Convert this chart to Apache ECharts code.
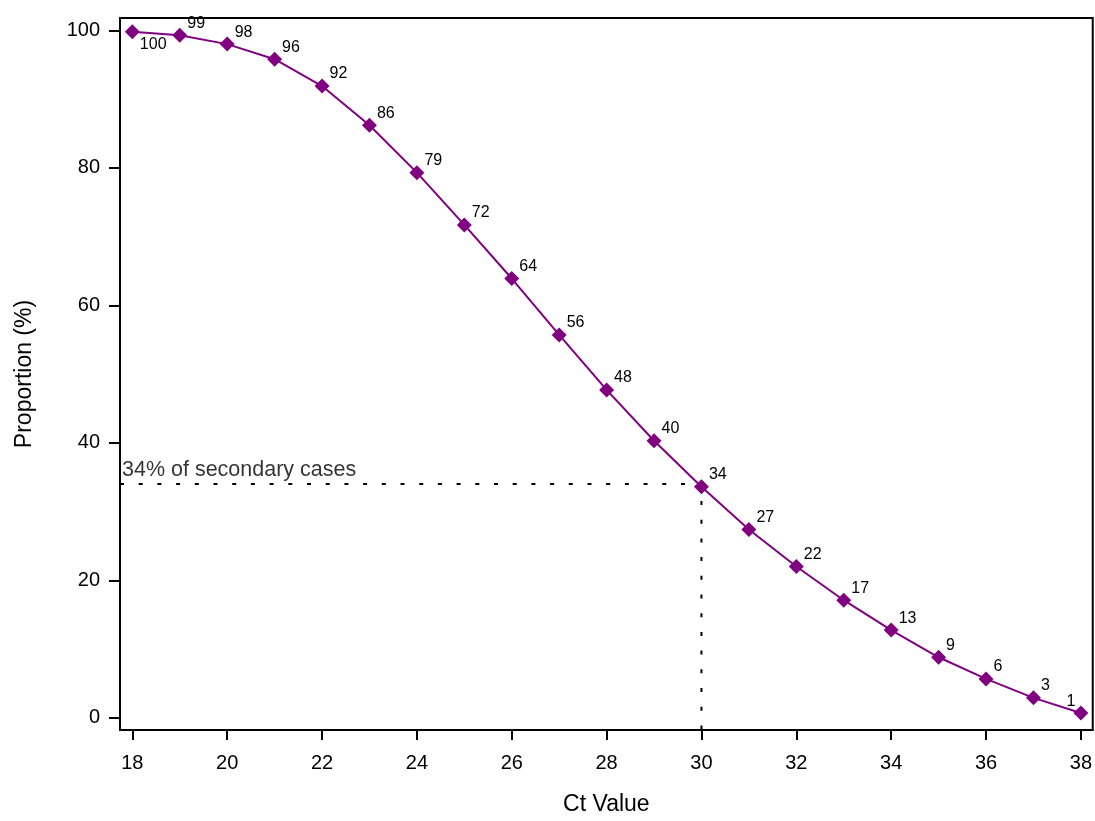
<!DOCTYPE html>
<html>
<head>
<meta charset="utf-8">
<script src="https://cdn.jsdelivr.net/npm/echarts@6/dist/echarts.min.js"></script>
<style>
html,body{margin:0;padding:0;background:#fff;}
#chart{width:1095px;height:821px;}
</style>
</head>
<body>
<div id="chart"></div>
<script>
const ctValues = [18,19,20,21,22,23,24,25,26,27,28,29,30,31,32,33,34,35,36,37,38];
const proportions = [99.8,99.3,98.0,95.8,91.9,86.2,79.3,71.7,63.9,55.7,47.7,40.3,33.6,27.4,22.0,17.1,12.75,8.8,5.65,2.9,0.7];
const pointLabels = ['100','99','98','96','92','86','79','72','64','56','48','40','34','27','22','17','13','9','6','3','1'];
const xTicks = [18,20,22,24,26,28,30,32,34,36,38];
const yTicks = [0,20,40,60,80,100];
const refCt = 30;
const refProportion = 34;
const refText = '34% of secondary cases';
const xName = 'Ct Value';
const yName = 'Proportion (%)';

const X_MIN = 17.74, X_MAX = 38.25, Y_MIN = -1.78, Y_MAX = 101.8;
const FONT = '"Liberation Sans", Arial, sans-serif';
const PURPLE = '#800080';

const mainData = ctValues.map((x, i) => {
  const item = { value: [x, proportions[i]], label: { formatter: pointLabels[i] } };
  if (i === 0) {
    item.label.offset = [0, 13];
  } else if (i === ctValues.length - 1) {
    item.label.position = 'left';
    item.label.offset = [2, -11];
  }
  return item;
});

const chart = echarts.init(document.getElementById('chart'), null, { renderer: 'canvas' });
chart.setOption({
  animation: false,
  backgroundColor: '#fff',
  grid: { left: 120, right: 2, top: 18, bottom: 88, show: true, borderColor: '#000', borderWidth: 2, backgroundColor: 'transparent' },
  xAxis: {
    type: 'value', min: X_MIN, max: X_MAX,
    name: xName, nameLocation: 'middle', nameGap: 63,
    nameTextStyle: { fontFamily: FONT, fontSize: 23, color: '#000' },
    axisLine: { show: true, onZero: false, lineStyle: { color: '#000', width: 2 } },
    axisTick: { show: true, length: 10, lineStyle: { color: '#000', width: 2 }, customValues: xTicks },
    axisLabel: { fontFamily: FONT, fontSize: 20, color: '#000', margin: 23, customValues: xTicks },
    splitLine: { show: false }
  },
  yAxis: {
    type: 'value', min: Y_MIN, max: Y_MAX,
    name: yName, nameLocation: 'middle', nameGap: 84,
    nameTextStyle: { fontFamily: FONT, fontSize: 23, color: '#000' },
    axisLine: { show: true, onZero: false, lineStyle: { color: '#000', width: 2 } },
    axisTick: { show: true, length: 11, lineStyle: { color: '#000', width: 2 }, customValues: yTicks },
    axisLabel: { fontFamily: FONT, fontSize: 20, color: '#000', margin: 20, customValues: yTicks },
    splitLine: { show: false }
  },
  series: [
    {
      type: 'line',
      data: [[X_MIN, refProportion], [refCt, refProportion], [refCt, Y_MIN]],
      showSymbol: false, symbol: 'none',
      lineStyle: { color: '#000', width: 2, type: [4, 14.7] },
      z: 1, silent: true
    },
    {
      type: 'scatter',
      data: [[X_MIN, refProportion]],
      symbolSize: 0,
      label: { show: true, formatter: refText, position: 'right', distance: 2, offset: [0, -14], fontFamily: FONT, fontSize: 21.5, color: '#000' },
      z: 3, silent: true
    },
    {
      type: 'line',
      data: mainData,
      symbol: 'diamond', symbolSize: 15,
      itemStyle: { color: PURPLE },
      lineStyle: { color: PURPLE, width: 2 },
      label: { show: true, position: 'right', distance: 0, offset: [0, -12], fontFamily: FONT, fontSize: 16, color: '#000' },
      z: 2
    }
  ]
});
</script>
</body>
</html>
